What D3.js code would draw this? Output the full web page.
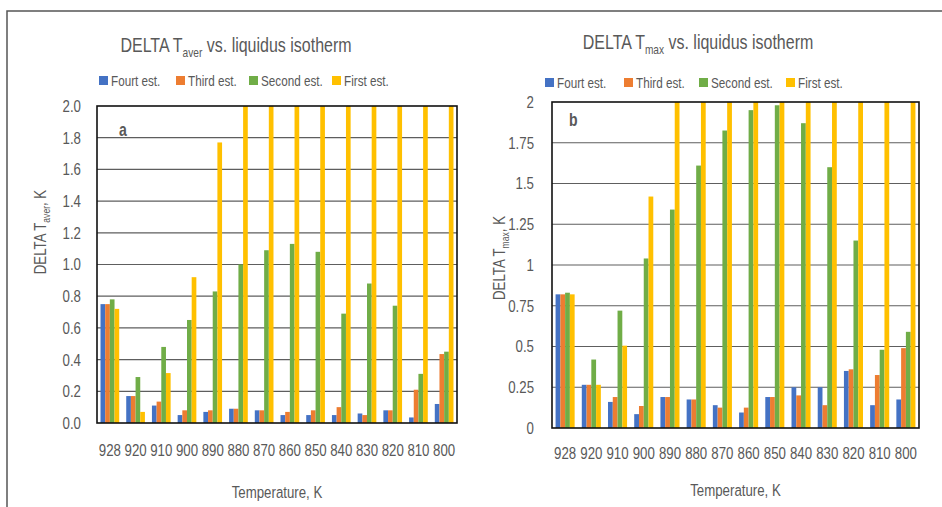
<!DOCTYPE html>
<html>
<head>
<meta charset="utf-8">
<script src="https://cdn.jsdelivr.net/npm/d3@7/dist/d3.min.js"></script>
<style>
  html, body { margin: 0; padding: 0; background: #fff; }
  svg { display: block; }
  text { font-family: "Liberation Sans", Arial, sans-serif; fill: #595959; }
</style>
</head>
<body>
<svg id="chart" width="942" height="507"></svg>
<script>
// ---------- DATA ----------
const categories = ["928", "920", "910", "900", "890", "880", "870", "860", "850", "840", "830", "820", "810", "800"];
const seriesNames = ["Fourt est.", "Third est.", "Second est.", "First est."];
const seriesColors = ["#4472C4", "#ED7D31", "#70AD47", "#FFC000"];

// Chart a: DELTA T_aver (K); 2.0 = off-scale (bar reaches top of axis)
const averFourth = [0.75, 0.17, 0.11, 0.05, 0.07, 0.09, 0.08, 0.05, 0.05, 0.05, 0.06, 0.08, 0.035, 0.12];
const averThird  = [0.75, 0.17, 0.135, 0.08, 0.08, 0.09, 0.08, 0.07, 0.08, 0.10, 0.05, 0.08, 0.21, 0.435];
const averSecond = [0.78, 0.29, 0.48, 0.65, 0.83, 1.00, 1.09, 1.13, 1.08, 0.69, 0.88, 0.74, 0.31, 0.45];
const averFirst  = [0.72, 0.07, 0.315, 0.92, 1.77, 2.0, 2.0, 2.0, 2.0, 2.0, 2.0, 2.0, 2.0, 2.0];

// Chart b: DELTA T_max (K); 2.0 = off-scale
const maxFourth = [0.82, 0.265, 0.16, 0.085, 0.19, 0.175, 0.14, 0.095, 0.19, 0.25, 0.25, 0.35, 0.14, 0.175];
const maxThird  = [0.82, 0.265, 0.19, 0.135, 0.19, 0.175, 0.125, 0.125, 0.19, 0.20, 0.14, 0.36, 0.325, 0.49];
const maxSecond = [0.83, 0.42, 0.72, 1.04, 1.34, 1.61, 1.825, 1.95, 1.98, 1.87, 1.60, 1.15, 0.48, 0.59];
const maxFirst  = [0.82, 0.265, 0.505, 1.42, 2.0, 2.0, 2.0, 2.0, 2.0, 2.0, 2.0, 2.0, 2.0, 2.0];

const ticksA = [0, 0.2, 0.4, 0.6, 0.8, 1.0, 1.2, 1.4, 1.6, 1.8, 2.0];
const ticksB = [0, 0.25, 0.5, 0.75, 1, 1.25, 1.5, 1.75, 2];

const SX = 0.78; // horizontal condensing of the text face
const svg = d3.select("#chart");

// outer frame (top and left edges visible)
svg.append("path")
  .attr("d", "M7,507 V11 H942")
  .attr("fill", "none").attr("stroke", "#555").attr("stroke-width", 1.5);

function label(parent, x, y, size, anchor, rotate) {
  const g = parent.append("g").attr("transform", `translate(${x},${y})` + (rotate ? ` rotate(${rotate})` : ""));
  return g.append("text").attr("transform", `scale(${SX},1)`)
    .attr("text-anchor", anchor).attr("dy", "0.35em").attr("font-size", size);
}

function drawChart(cfg) {
  const g = svg.append("g");
  const x = d3.scaleBand().domain(categories).range([cfg.x0, cfg.x1]).paddingInner(0).paddingOuter(0);
  const y = d3.scaleLinear().domain([0, 2]).range([cfg.y0, cfg.y1]).clamp(true);
  const bw = x.bandwidth();
  const gap = bw * 1.5 / 5.5;
  const xs = d3.scaleBand().domain(d3.range(4)).range([gap / 2, bw - gap / 2]).padding(0);

  // gridlines
  g.append("g").selectAll("line").data(cfg.ticks.slice(1, -1)).join("line")
    .attr("x1", cfg.x0).attr("x2", cfg.x1)
    .attr("y1", d => y(d)).attr("y2", d => y(d))
    .attr("stroke", "#5e5e5e").attr("stroke-width", 1.2);

  // bars
  cfg.series.forEach((vals, si) => {
    g.append("g").selectAll("rect").data(vals).join("rect")
      .attr("x", (d, i) => x(categories[i]) + xs(si))
      .attr("width", xs.bandwidth())
      .attr("y", d => y(d))
      .attr("height", d => y(0) - y(d))
      .attr("fill", seriesColors[si]);
  });

  // plot border
  g.append("rect")
    .attr("x", cfg.x0).attr("y", cfg.y1)
    .attr("width", cfg.x1 - cfg.x0).attr("height", cfg.y0 - cfg.y1)
    .attr("fill", "none").attr("stroke", "#111").attr("stroke-width", 1.6);

  // y tick labels
  const yAxis = d3.axisLeft(y).tickValues(cfg.ticks).tickSize(0).tickPadding(0).tickFormat(cfg.fmt);
  const ya = g.append("g").attr("transform", `translate(${cfg.yLabelX},0)`).call(yAxis);
  ya.select(".domain").remove();
  ya.selectAll("text").attr("font-size", 17).attr("fill", "#595959")
    .attr("transform", `scale(${SX},1)`).style("font-family", "'Liberation Sans', Arial, sans-serif");

  // x tick labels
  const xAxis = d3.axisBottom(x).tickSize(0).tickPadding(0);
  const xa = g.append("g").attr("transform", `translate(0,${cfg.xLabelY})`).call(xAxis);
  xa.select(".domain").remove();
  xa.selectAll("text").attr("font-size", 17).attr("fill", "#595959").attr("dy", "0.35em")
    .attr("transform", `scale(${SX},1)`).style("font-family", "'Liberation Sans', Arial, sans-serif");

  // title
  const t = label(g, cfg.titleX, cfg.titleY, 20.5, "middle");
  t.append("tspan").text("DELTA T");
  t.append("tspan").attr("font-size", 13).attr("dy", 5).text(cfg.sub);
  t.append("tspan").attr("dy", -5).text(" vs. liquidus isotherm");

  // legend
  const lg = g.append("g").attr("transform", `translate(0,${cfg.legendY})`);
  cfg.legendX.forEach((lx, i) => {
    lg.append("rect").attr("x", lx).attr("y", -5).attr("width", 9).attr("height", 9).attr("fill", seriesColors[i]);
    label(lg, lx + 12, 0, 15, "start").text(seriesNames[i]);
  });

  // x axis title
  label(g, (cfg.x0 + cfg.x1) / 2, cfg.xTitleY, 17, "middle").text("Temperature, K");

  // y axis title
  const yt = label(g, cfg.yTitleX, cfg.yTitleY, 17, "middle", -90);
  yt.append("tspan").text("DELTA T");
  yt.append("tspan").attr("font-size", 11).attr("dy", 4).text(cfg.sub);
  yt.append("tspan").attr("dy", -4).text(", K");

  // panel letter
  g.append("text").attr("transform", `translate(${cfg.letterX},${cfg.letterY}) scale(${SX},1)`)
    .attr("font-size", 18).attr("font-weight", "bold").attr("fill", "#111").text(cfg.letter);
}

drawChart({
  x0: 97, x1: 457, y0: 423, y1: 106,
  ticks: ticksA, fmt: d3.format(".1f"),
  series: [averFourth, averThird, averSecond, averFirst],
  yLabelX: 81, xLabelY: 450,
  titleX: 236, titleY: 45, sub: "aver",
  legendY: 81, legendX: [99, 176, 249, 332],
  xTitleY: 492, yTitleX: 40, yTitleY: 232,
  letter: "a", letterX: 119, letterY: 136
});

drawChart({
  x0: 552, x1: 919, y0: 428, y1: 102,
  ticks: ticksB, fmt: d => String(d),
  series: [maxFourth, maxThird, maxSecond, maxFirst],
  yLabelX: 534, xLabelY: 453,
  titleX: 698, titleY: 42, sub: "max",
  legendY: 83, legendX: [545, 624, 699, 786],
  xTitleY: 490, yTitleX: 499, yTitleY: 258,
  letter: "b", letterX: 569, letterY: 126
});
</script>
</body>
</html>
